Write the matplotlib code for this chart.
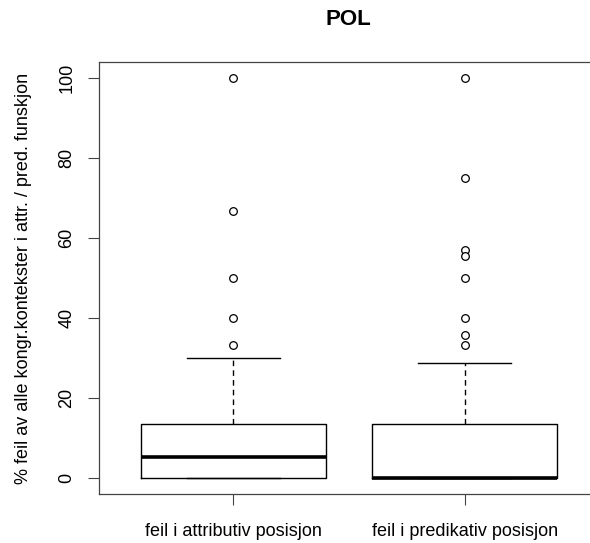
import matplotlib
matplotlib.use("Agg")
import matplotlib.pyplot as plt

plt.rcParams["font.family"] = ["Liberation Sans", "DejaVu Sans"]

# (percent)
categories = ["feil i attributiv posisjon", "feil i predikativ posisjon"]
q1 = [0.0, 0.0]
medians = [5.3, 0.0]
q3 = [13.5, 13.5]
whislo = [0.0, 0.0]
whishi = [30.1, 28.7]
outliers = [
    [100.0, 66.7, 50.0, 40.0, 33.3],
    [100.0, 75.0, 57.1, 55.6, 50.0, 40.0, 35.7, 33.3],
]
yticks = [0, 20, 40, 60, 80, 100]

stats = []
for i, name in enumerate(categories):
    stats.append({
        "label": name,
        "q1": q1[i], "med": medians[i], "q3": q3[i],
        "whislo": whislo[i], "whishi": whishi[i],
        "fliers": outliers[i],
    })

fig = plt.figure(figsize=(5.9, 5.43), dpi=100)
ax = fig.add_axes([0.1678, 0.0902, 0.8475, 0.7956])

ax.bxp(stats, positions=[1, 2], widths=0.8, patch_artist=False,
       boxprops=dict(color="black", linewidth=1.0),
       medianprops=dict(color="black", linewidth=2.6, solid_capstyle="butt"),
       whiskerprops=dict(color="black", linewidth=1.0, linestyle=(0, (4, 3))),
       capprops=dict(color="black", linewidth=1.0),
       capwidths=0.4,
       flierprops=dict(marker="o", markerfacecolor="white", markeredgecolor="black",
                       markersize=5.5, markeredgewidth=0.9))

ax.set_xlim(0.42, 2.58)
ax.set_ylim(-4, 104)
ax.set_yticks(yticks)
ax.set_yticklabels([str(v) for v in yticks], rotation=90, va="center")
ax.set_xticks([1, 2])
ax.set_xticklabels(categories)
ax.tick_params(axis="both", length=8, width=0.8, labelsize=13, color="#444444")
ax.tick_params(axis="x", pad=13)
ax.tick_params(axis="y", pad=9)
for s in ax.spines.values():
    s.set_linewidth(0.9)
    s.set_color("#444444")

fig.text(24 / 590, 1 - 278 / 543, "% feil av alle kongr.kontekster i attr. / pred. funskjon",
         rotation=90, ha="center", va="center", fontsize=13)
fig.text(0.591, 0.965, "POL", ha="center", va="center", fontsize=16, fontweight="bold")

plt.savefig("out.png", dpi=100)
